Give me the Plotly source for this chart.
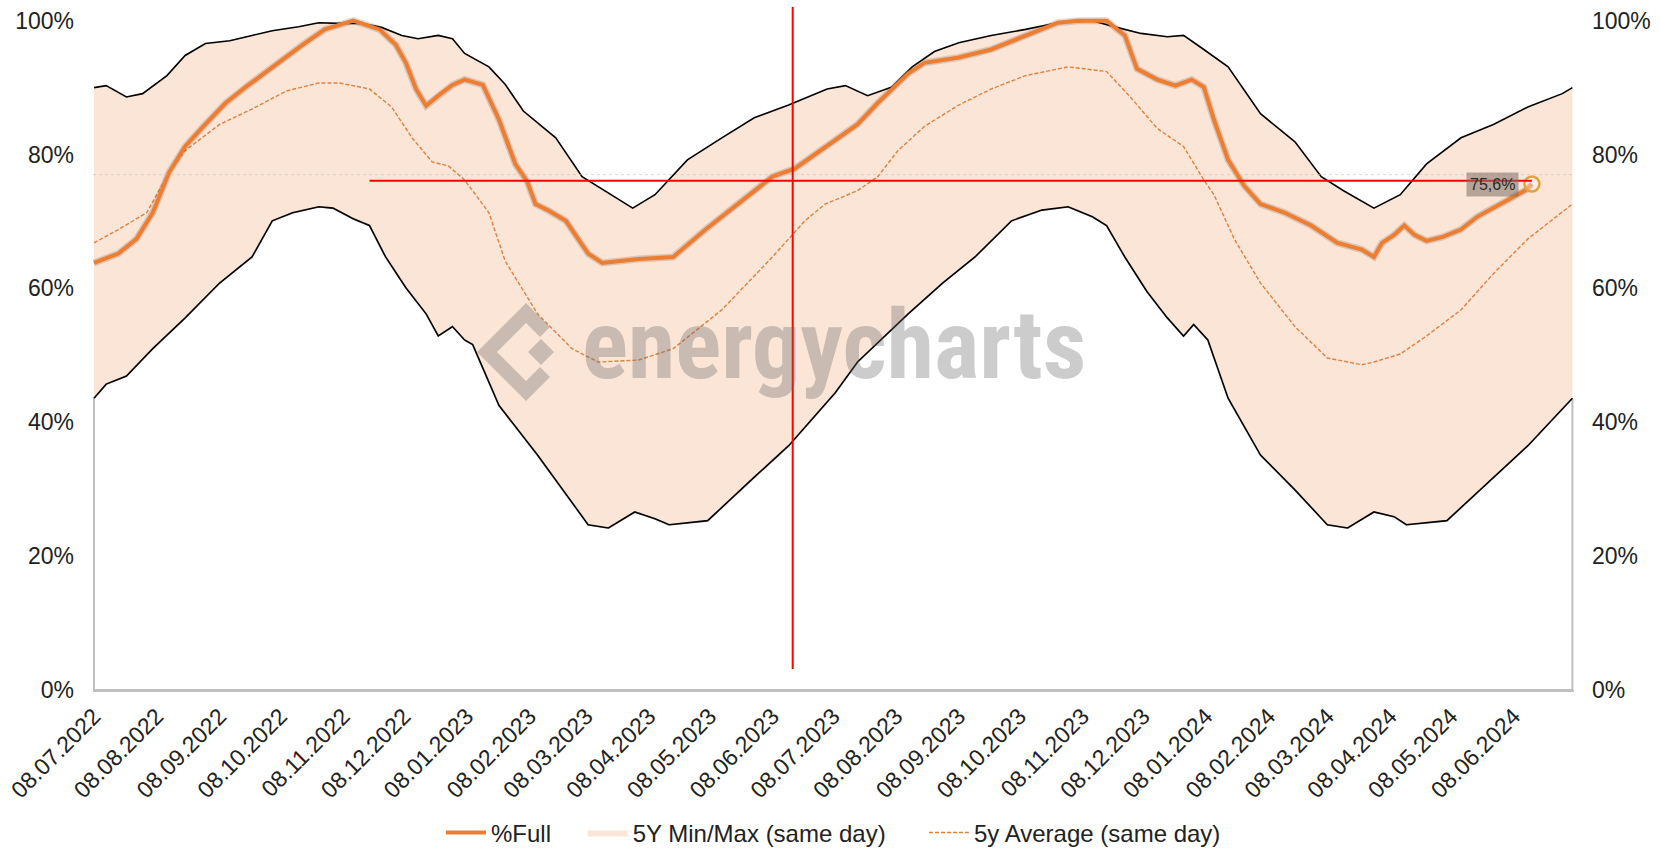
import glob
import plotly.graph_objects as go
import pandas as pd

# ---------------- data ----------------
tick_labels = ["08.07.2022", "08.08.2022", "08.09.2022", "08.10.2022", "08.11.2022", "08.12.2022",
               "08.01.2023", "08.02.2023", "08.03.2023", "08.04.2023", "08.05.2023", "08.06.2023",
               "08.07.2023", "08.08.2023", "08.09.2023", "08.10.2023", "08.11.2023", "08.12.2023",
               "08.01.2024", "08.02.2024", "08.03.2024", "08.04.2024", "08.05.2024", "08.06.2024"]

full_dates = ["2022-07-08", "2022-07-20", "2022-07-29", "2022-08-06", "2022-08-14", "2022-08-22",
              "2022-08-31", "2022-09-11", "2022-09-21", "2022-09-27", "2022-10-07", "2022-10-19",
              "2022-10-30", "2022-11-13", "2022-11-26", "2022-12-04", "2022-12-09", "2022-12-14",
              "2022-12-19", "2022-12-25", "2023-01-01", "2023-01-07", "2023-01-16", "2023-01-24",
              "2023-02-01", "2023-02-07", "2023-02-11", "2023-02-17", "2023-02-26", "2023-03-09",
              "2023-03-16", "2023-04-03", "2023-04-20", "2023-05-06", "2023-05-22", "2023-06-08",
              "2023-06-19", "2023-07-09", "2023-07-20", "2023-07-30", "2023-08-14", "2023-08-22",
              "2023-09-08", "2023-09-24", "2023-10-11", "2023-10-27", "2023-11-06", "2023-11-20",
              "2023-11-29", "2023-12-05", "2023-12-15", "2023-12-24", "2024-01-01", "2024-01-07",
              "2024-01-12", "2024-01-19", "2024-01-27", "2024-02-04", "2024-02-16", "2024-02-29",
              "2024-03-13", "2024-03-25", "2024-03-31", "2024-04-04", "2024-04-10", "2024-04-15",
              "2024-04-20", "2024-04-26", "2024-05-04", "2024-05-13", "2024-05-21", "2024-05-29",
              "2024-06-06", "2024-06-14", "2024-06-17"]
full_pct = [63.8, 65.2, 67.4, 71.3, 77.3, 81.2,
            84.2, 87.7, 90.1, 91.5, 93.7, 96.4,
            98.7, 100.0, 98.7, 96.4, 93.7, 89.8,
            87.3, 88.8, 90.4, 91.2, 90.4, 85.2,
            78.6, 75.9, 72.6, 71.7, 70.1, 65.2,
            63.8, 64.4, 64.7, 68.8, 72.6, 76.7,
            77.9, 82.2, 84.5, 87.7, 92.1, 93.7,
            94.5, 95.7, 97.8, 99.7, 100.0, 100.0,
            97.8, 92.8, 91.2, 90.3, 91.2, 90.1,
            85.2, 79.2, 75.3, 72.6, 71.3, 69.4,
            66.8, 65.8, 64.7, 66.8, 68.0, 69.4,
            68.0, 67.1, 67.7, 68.8, 70.7, 72.0,
            73.4, 74.7, 75.6]

avg_dates = ["2022-07-08", "2022-07-20", "2022-08-03", "2022-08-14", "2022-08-22", "2022-09-08",
             "2022-09-24", "2022-10-11", "2022-10-27", "2022-11-06", "2022-11-21", "2022-12-02",
             "2022-12-12", "2022-12-22", "2022-12-30", "2023-01-07", "2023-01-19", "2023-01-27",
             "2023-02-12", "2023-03-01", "2023-03-14", "2023-04-03", "2023-04-20", "2023-05-14",
             "2023-06-08", "2023-06-24", "2023-07-04", "2023-07-20", "2023-07-30", "2023-08-09",
             "2023-08-22", "2023-09-08", "2023-09-24", "2023-10-11", "2023-11-01", "2023-11-20",
             "2023-12-02", "2023-12-15", "2023-12-28", "2024-01-01", "2024-01-07", "2024-01-12",
             "2024-01-22", "2024-02-04", "2024-02-21", "2024-03-08", "2024-03-25", "2024-03-31",
             "2024-04-13", "2024-04-26", "2024-05-13", "2024-05-29", "2024-06-15", "2024-07-07"]
avg_pct = [66.8, 68.8, 71.3, 77.3, 80.6, 84.5,
           86.8, 89.5, 90.7, 90.7, 89.8, 87.1,
           82.5, 78.9, 78.3, 76.2, 71.3, 64.1,
           56.2, 51.0, 49.0, 49.3, 51.0, 56.8,
           64.7, 70.1, 72.6, 74.6, 76.7, 80.6,
           84.2, 87.4, 89.8, 91.8, 93.1, 92.4,
           88.5, 83.9, 81.2, 79.2, 76.2, 74.0,
           67.4, 60.8, 54.3, 49.6, 48.6, 49.0,
           50.2, 52.9, 56.8, 62.2, 67.4, 72.6]

max_dates = ["2022-07-08", "2022-07-14", "2022-07-24", "2022-08-01", "2022-08-13", "2022-08-22",
             "2022-09-01", "2022-09-13", "2022-09-24", "2022-10-04", "2022-10-17", "2022-10-27",
             "2022-11-06", "2022-11-17", "2022-11-27", "2022-12-07", "2022-12-15", "2022-12-25",
             "2023-01-01", "2023-01-07", "2023-01-19", "2023-01-27", "2023-02-05", "2023-02-21",
             "2023-03-06", "2023-03-17", "2023-03-31", "2023-04-11", "2023-04-27", "2023-05-14",
             "2023-05-30", "2023-06-16", "2023-07-05", "2023-07-14", "2023-07-25", "2023-08-06",
             "2023-08-16", "2023-08-27", "2023-09-08", "2023-09-24", "2023-10-11", "2023-10-27",
             "2023-11-13", "2023-11-25", "2023-12-07", "2023-12-20", "2023-12-28", "2024-01-07",
             "2024-01-19", "2024-02-04", "2024-02-21", "2024-03-05", "2024-03-16", "2024-03-31",
             "2024-04-13", "2024-04-26", "2024-05-13", "2024-05-29", "2024-06-15", "2024-07-02",
             "2024-07-07"]
max_pct = [90.0, 90.3, 88.6, 89.1, 91.8, 94.8,
           96.6, 97.0, 97.8, 98.5, 99.1, 99.7,
           99.6, 99.6, 99.0, 97.8, 97.3, 97.8,
           97.3, 95.1, 93.1, 90.5, 86.5, 82.5,
           76.7, 74.6, 72.0, 74.0, 79.2, 82.5,
           85.5, 87.4, 89.8, 90.3, 88.8, 90.1,
           93.1, 95.4, 96.7, 97.8, 98.7, 99.7,
           100.0, 99.0, 98.1, 97.6, 97.8, 95.7,
           93.1, 86.1, 81.9, 76.7, 74.6, 72.0,
           74.0, 78.6, 82.5, 84.5, 87.1, 89.1,
           90.0]

min_dates = ["2022-07-08", "2022-07-14", "2022-07-24", "2022-08-06", "2022-08-22", "2022-09-08",
             "2022-09-24", "2022-10-04", "2022-10-14", "2022-10-27", "2022-11-03", "2022-11-13",
             "2022-11-21", "2022-11-29", "2022-12-09", "2022-12-19", "2022-12-25", "2023-01-01",
             "2023-01-07", "2023-01-11", "2023-01-24", "2023-02-12", "2023-03-09", "2023-03-19",
             "2023-04-01", "2023-04-11", "2023-04-18", "2023-05-07", "2023-05-30", "2023-06-16",
             "2023-07-09", "2023-07-20", "2023-08-14", "2023-08-31", "2023-09-16", "2023-10-04",
             "2023-10-19", "2023-11-01", "2023-11-13", "2023-11-20", "2023-11-29", "2023-12-10",
             "2023-12-20", "2023-12-28", "2024-01-02", "2024-01-09", "2024-01-19", "2024-02-04",
             "2024-02-21", "2024-03-08", "2024-03-18", "2024-03-31", "2024-04-10", "2024-04-16",
             "2024-05-06", "2024-05-29", "2024-06-15", "2024-07-07"]
min_pct = [43.6, 45.7, 46.9, 51.0, 55.6, 60.8,
           64.7, 70.1, 71.3, 72.2, 72.0, 70.4,
           69.4, 64.7, 60.1, 56.2, 52.9, 54.3,
           52.3, 51.6, 42.5, 35.1, 24.7, 24.2,
           26.6, 25.6, 24.7, 25.3, 31.8, 36.5,
           44.4, 49.0, 56.2, 60.8, 64.7, 70.1,
           71.7, 72.2, 70.7, 69.4, 64.7, 59.5,
           55.6, 52.9, 54.6, 52.3, 43.6, 35.1,
           29.9, 24.7, 24.2, 26.6, 25.9, 24.7,
           25.3, 31.8, 36.5, 43.6]

y_ticks = [0, 20, 40, 60, 80, 100]
last_label = "75,6%"
marker_date = "2023-06-18"      # vertical red marker line
marker_from = "2022-11-21"      # start of horizontal red marker line
marker_level = 76.1             # level of horizontal red marker line
ref_level = 77.0                # faint dotted reference line

# ---------------- styling ----------------
ORANGE = "#ED7D31"
PEACH = "#FBE5D6"
FONT = "Liberation Sans, Arial, sans-serif"
TXT = "#222222"


def font_present(pattern):
    for root in ("/usr/share/fonts", "/usr/local/share/fonts", "/root/.fonts",
                 "/root/.local/share/fonts"):
        if glob.glob(f"{root}/**/{pattern}", recursive=True):
            return True
    return False


# condensed face for the watermark, if one is installed (family, size, bold)
wm_candidates = [
    ("NotoSans-ExtraCondensedSemiBold*", "Noto Sans ExtraCondensed SemiBold", 108, False),
    ("NotoSans-ExtraCondensed*", "Noto Sans ExtraCondensed", 104, True),
    ("RobotoCondensed*", "Roboto Condensed", 96, True),
    ("NotoSans-Condensed*", "Noto Sans Condensed", 88, True),
    ("LiberationSansNarrow*", "Liberation Sans Narrow", 94, True),
]
WM_FONT, WM_SIZE, WM_BOLD = "DejaVu Sans Condensed", 74, True
for pat, fam, size, bold in wm_candidates:
    if font_present(pat):
        WM_FONT, WM_SIZE, WM_BOLD = fam, size, bold
        break
WM_TEXT = "<b>energycharts</b>" if WM_BOLD else "energycharts"

tick_vals = pd.to_datetime(tick_labels, format="%d.%m.%Y")

fig = go.Figure()

# white base area below the minimum, with grey outline (Excel stacked-area look)
fig.add_trace(go.Scatter(
    x=[min_dates[0]] + min_dates + [min_dates[-1], min_dates[0]],
    y=[0] + min_pct + [0, 0],
    fill="toself", fillcolor="rgba(255,255,255,1)",
    mode="lines", line=dict(color="#BFBFBF", width=2),
    showlegend=False, hoverinfo="skip"))

# min/max band
fig.add_trace(go.Scatter(
    x=max_dates + min_dates[::-1],
    y=max_pct + min_pct[::-1],
    fill="toself", fillcolor=PEACH,
    mode="lines", line=dict(color=PEACH, width=0),
    name="5Y Min/Max (same day)" + "\u00a0" * 5, legendrank=2, hoverinfo="skip"))

# black max / min lines
fig.add_trace(go.Scatter(x=max_dates, y=max_pct, mode="lines",
                         line=dict(color="#000000", width=1.6),
                         showlegend=False, hoverinfo="skip"))
fig.add_trace(go.Scatter(x=min_dates, y=min_pct, mode="lines",
                         line=dict(color="#000000", width=1.6),
                         showlegend=False, hoverinfo="skip"))

# 5y average
fig.add_trace(go.Scatter(x=avg_dates, y=avg_pct, mode="lines",
                         line=dict(color="#E0803F", width=1.4, dash="4px,2px"),
                         name="5y Average (same day)", legendrank=3))

# %Full: soft shadow underneath, then the line itself
fig.add_trace(go.Scatter(x=full_dates, y=full_pct, mode="lines",
                         line=dict(color="rgba(110,80,60,0.22)", width=7),
                         showlegend=False, hoverinfo="skip"))
fig.add_trace(go.Scatter(x=full_dates, y=full_pct, mode="lines",
                         line=dict(color=ORANGE, width=4),
                         name="%Full" + "\u00a0" * 4, legendrank=1))

# last point marker (on the right-hand axis, same scale)
fig.add_trace(go.Scatter(x=[full_dates[-1]], y=[full_pct[-1]], mode="markers",
                         marker=dict(size=15, color="rgba(255,255,255,0.35)",
                                     line=dict(color="#E6A23A", width=2.5)),
                         yaxis="y2", showlegend=False, hoverinfo="skip"))

axis_font = dict(family=FONT, size=23, color=TXT)

fig.update_layout(
    width=1661, height=849,
    margin=dict(l=93, r=87, t=14, b=159),
    paper_bgcolor="white", plot_bgcolor="white",
    font=dict(family=FONT, color=TXT),
    xaxis=dict(type="date", range=["2022-07-07 12:00", "2024-07-07 19:00"],
               tickmode="array", tickvals=tick_vals, ticktext=tick_labels,
               tickangle=-45, tickfont=axis_font, ticks="", ticklabelstandoff=2,
               showgrid=False, zeroline=False, automargin=False,
               showline=True, linecolor="#BFBFBF", linewidth=1.5),
    yaxis=dict(range=[0, 101], tickmode="array", tickvals=y_ticks,
               ticktext=[f"{v}%" for v in y_ticks], tickfont=axis_font,
               ticks="", ticklabelstandoff=18, showgrid=False, zeroline=False,
               showline=False, automargin=False),
    yaxis2=dict(range=[0, 101], overlaying="y", side="right", tickmode="array",
                tickvals=y_ticks, ticktext=[f"{v}%" for v in y_ticks],
                tickfont=axis_font, ticks="", ticklabelstandoff=17,
                showgrid=False, zeroline=False, showline=False, automargin=False),
    legend=dict(orientation="h", xref="paper", x=0.5, xanchor="center",
                yref="container", y=0.019, yanchor="middle",
                font=dict(family=FONT, size=24, color=TXT), itemwidth=40,
                bgcolor="rgba(0,0,0,0)"),
    showlegend=True,
)

# faint reference line, red marker lines
fig.add_shape(type="line", xref="paper", x0=0, x1=1, yref="y", y0=ref_level, y1=ref_level,
              line=dict(color="rgba(185,185,185,0.55)", width=1, dash="dot"), layer="above")
fig.add_shape(type="line", xref="x", x0=marker_from, x1=full_dates[-1],
              yref="y", y0=marker_level, y1=marker_level,
              line=dict(color="#FF0000", width=2), layer="above")
fig.add_shape(type="line", xref="x", x0=marker_date, x1=marker_date,
              yref="paper", y0=0.031, y1=1.0104,
              line=dict(color="#FF0000", width=2), layer="above")

# value label of the last point
fig.add_annotation(x=full_dates[-1], y=full_pct[-1], xref="x", yref="y",
                   text=last_label, showarrow=False, xanchor="right", yanchor="middle",
                   xshift=-13, bgcolor="rgba(125,112,104,0.55)", borderpad=3,
                   font=dict(family=FONT, size=16, color="#2A2A2A"))

# watermark
WM = "rgba(105,105,105,0.34)"
fig.add_annotation(x=0.5, y=0.51, xref="paper", yref="paper", text=WM_TEXT,
                   showarrow=False, xanchor="center", yanchor="middle",
                   font=dict(family=WM_FONT, size=WM_SIZE, color=WM))
fig.add_shape(type="path", xref="paper", yref="paper",
              path="M 0.3052 0.5296 L 0.2924 0.5577 L 0.2660 0.5 L 0.2924 0.4423 L 0.3052 0.4704",
              line=dict(color=WM, width=14), layer="above")
fig.add_shape(type="path", xref="paper", yref="paper",
              path="M 0.3025 0.5192 L 0.3113 0.5 L 0.3025 0.4808 L 0.2937 0.5 Z",
              fillcolor=WM, line=dict(width=0), layer="above")

fig.write_html("out.html", config={"displayModeBar": False},
               post_script="document.body.style.margin='0';")
